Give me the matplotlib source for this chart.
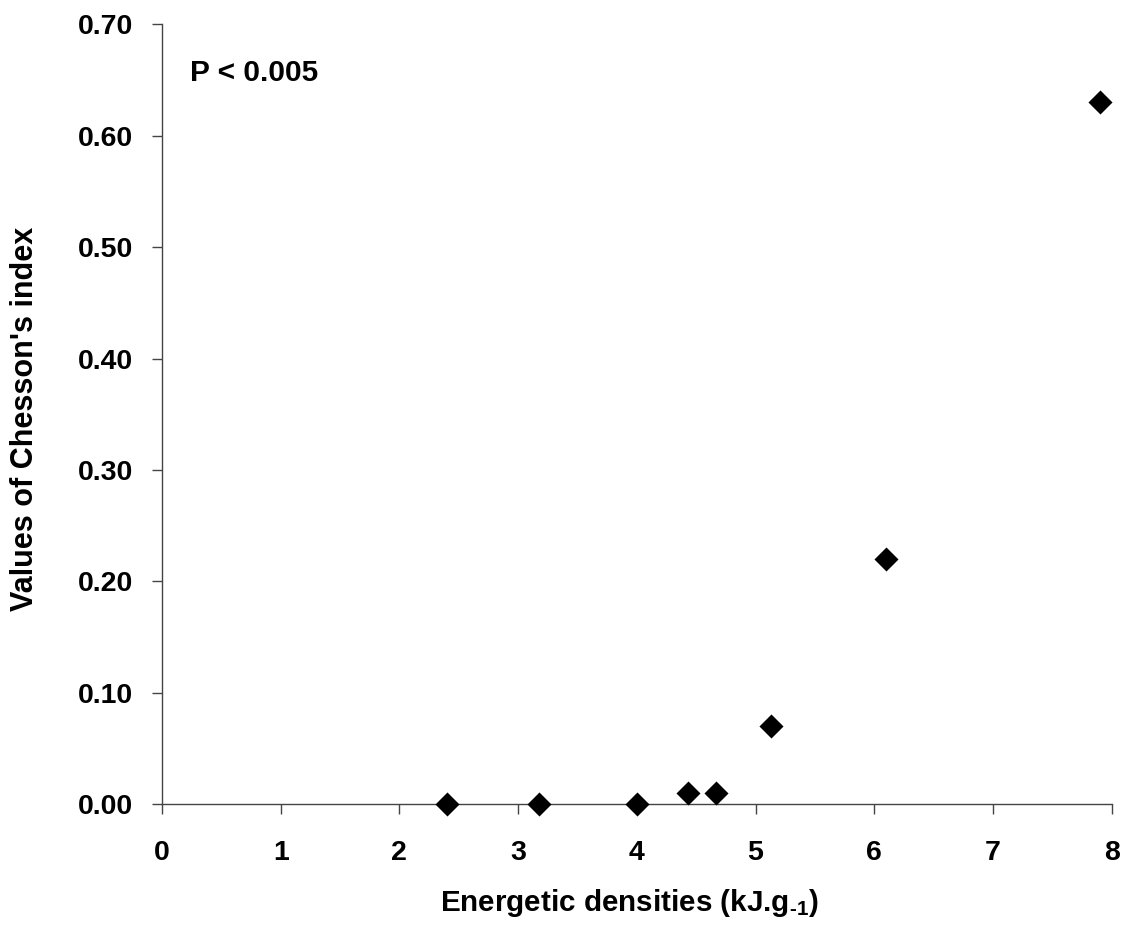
import matplotlib
matplotlib.use("Agg")
import matplotlib.pyplot as plt

plt.rcParams['font.family'] = ['Liberation Sans', 'DejaVu Sans']
plt.rcParams['font.weight'] = 'bold'
plt.rcParams['mathtext.fontset'] = 'custom'
plt.rcParams['mathtext.rm'] = 'Liberation Sans:bold'
plt.rcParams['mathtext.it'] = 'Liberation Sans:bold'
plt.rcParams['mathtext.bf'] = 'Liberation Sans:bold'

# Data
energy_density = [2.40, 3.18, 4.00, 4.43, 4.67, 5.13, 6.10, 7.90]
chesson_index = [0.00, 0.00, 0.00, 0.01, 0.01, 0.07, 0.22, 0.63]
x_ticks = [0, 1, 2, 3, 4, 5, 6, 7, 8]
y_ticks = [0.00, 0.10, 0.20, 0.30, 0.40, 0.50, 0.60, 0.70]
y_tick_labels = ["0.00", "0.10", "0.20", "0.30", "0.40", "0.50", "0.60", "0.70"]

fig = plt.figure(figsize=(11.27, 9.36), dpi=100)
ax = fig.add_axes([0.1437, 0.1407, 0.8427, 0.8333])

ax.scatter(energy_density, chesson_index, marker='D', s=150, color='black',
           edgecolors='black', linewidths=0, zorder=3, clip_on=False)

ax.set_xlim(0, 8)
ax.set_ylim(0, 0.70)
ax.set_xticks(x_ticks)
ax.set_xticklabels([str(t) for t in x_ticks])
ax.set_yticks(y_ticks)
ax.set_yticklabels(y_tick_labels)

for s in ['top', 'right']:
    ax.spines[s].set_visible(False)
for s in ['left', 'bottom']:
    ax.spines[s].set_color('#444444')
    ax.spines[s].set_linewidth(1.0)

ax.tick_params(axis='both', direction='out', length=7, width=1.0, color='#444444',
               labelsize=20.5)
ax.tick_params(axis='x', pad=19)
ax.tick_params(axis='y', pad=14)
for lab in ax.get_xticklabels() + ax.get_yticklabels():
    lab.set_fontweight('bold')

xl = ax.set_xlabel(r'Energetic densities (kJ.g$_{\text{-1}}$)', fontsize=21.3,
                   fontweight='bold')
xl.set_verticalalignment('baseline')
ax.xaxis.set_label_coords(0.4925, -0.1368)

yl = ax.set_ylabel("Values of Chesson's index", fontsize=22, fontweight='bold')
ax.yaxis.set_label_coords(-0.1285, 0.494)

ax.text(0.236, 0.649, 'P < 0.005', fontsize=21.5,
        fontweight='bold', ha='left', va='baseline')

fig.savefig('out.png', dpi=100)
